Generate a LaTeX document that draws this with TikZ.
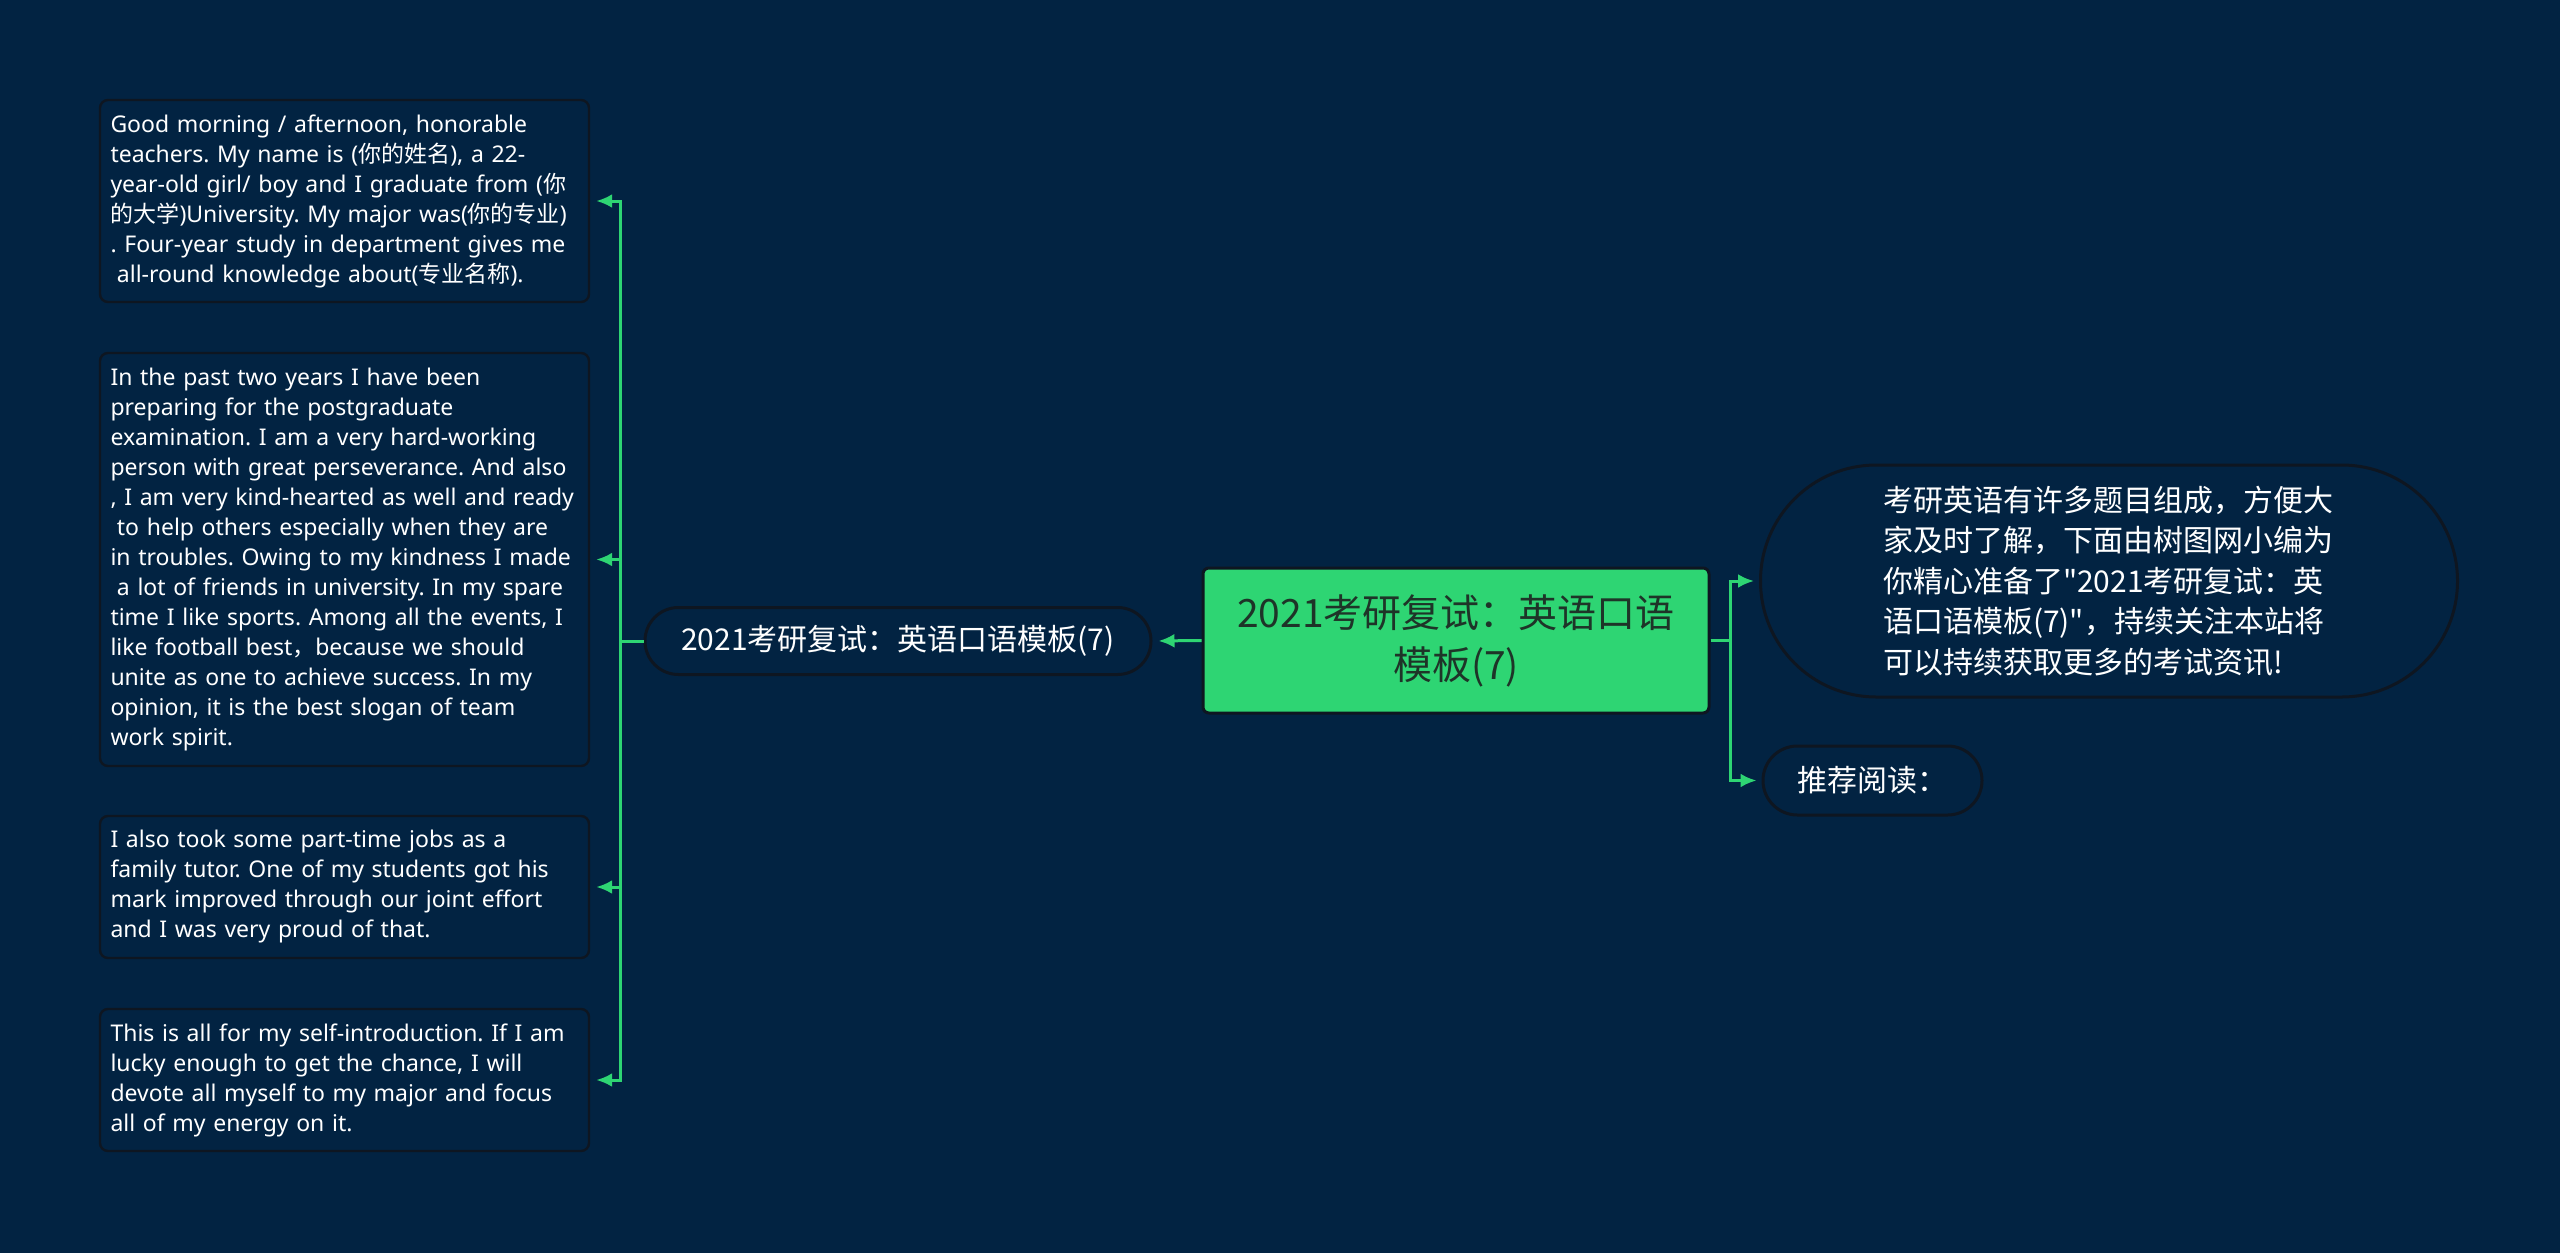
\documentclass[tikz,border=0pt]{standalone}
\usepackage{fontspec}
\setmainfont{Noto Sans}
\newfontfamily\cjk{Noto Sans CJK SC}
\usetikzlibrary{arrows.meta, positioning}
\definecolor{shutubg}{RGB}{2, 35, 66}
\definecolor{shutugreen}{RGB}{46, 213, 115}
\definecolor{shutuedge}{RGB}{14, 22, 33}
\definecolor{shututext}{RGB}{30, 52, 40}
\frenchspacing

\tikzset{
  leafbox/.style={draw=shutuedge, line width=1.2pt, rounded corners=4pt, fill=shutubg,
    text=white, align=left, text width=234pt, inner xsep=5.25pt, inner ysep=0pt,
    font=\fontsize{11.5}{15}\selectfont},
  pillbox/.style={draw=shutuedge, line width=1.5pt, fill=shutubg, text=white, align=center,
    inner sep=0pt, font=\cjk\fontsize{15}{20.2}\selectfont},
  rootbox/.style={draw=shutuedge, line width=1.5pt, rounded corners=3pt, fill=shutugreen,
    text=shututext, align=center, inner sep=0pt, minimum width=253pt, minimum height=72.5pt,
    font=\cjk\fontsize{19.5}{26}\selectfont},
  conn/.style={draw=shutugreen, line width=1.5pt, -{Latex[length=8pt, width=7pt]}, shorten >=3pt}
}

\begin{document}
\begin{tikzpicture}[x=0.5pt, y=-0.5pt]
  \fill[shutubg] (0,0) rectangle (2560,1253);
  \useasboundingbox (0,0) rectangle (2560,1253);

  % root and its two sides
  \node[rootbox] (root) at (1456,640.5) {2021考研复试：英语口语\\模板(7)};
  \node[pillbox, minimum width=253pt, minimum height=33.5pt, rounded corners=16.7pt]
    (mid) at (898,641) {2021考研复试：英语口语模板(7)};
  \node[pillbox, minimum width=348.5pt, minimum height=116pt, rounded corners=57.9pt,
    text width=226pt, align=left] (intro) at (2109,581)
    {考研英语有许多题目组成，方便大\\家及时了解，下面由树图网小编为\\你精心准备了"2021考研复试：英\\语口语模板(7)"，持续关注本站将\\可以持续获取更多的考试资讯!};
  \node[pillbox, minimum width=109.5pt, minimum height=34.5pt, rounded corners=17.2pt]
    (read) at (1872.5,780.5) {推荐阅读：};

  % the four paragraphs
  \node[leafbox, minimum height=101pt] (para1) at (344.5,201)
    {Good morning / afternoon, honorable\\
     teachers. My name is ({\cjk 你的姓名}), a 22-\\
     year-old girl/ boy and I graduate from ({\cjk 你}\\
     {\cjk 的大学})University. My major was({\cjk 你的专业})\\
     . Four-year study in department gives me\\
     \hspace*{0.28em}all-round knowledge about({\cjk 专业名称}).};
  \node[leafbox, minimum height=206.5pt] (para2) at (344.5,559.5)
    {In the past two years I have been\\
     preparing for the postgraduate\\
     examination. I am a very hard-working\\
     person with great perseverance. And also\\
     \mbox{, I am very kind-hearted as well and ready}\\
     \hspace*{0.28em}to help others especially when they are\\
     in troubles. Owing to my kindness I made\\
     \hspace*{0.28em}a lot of friends in university. In my spare\\
     time I like sports. Among all the events, I\\
     like football best{\cjk ，}because we should\\
     unite as one to achieve success. In my\\
     opinion, it is the best slogan of team\\
     work spirit.};
  \node[leafbox, minimum height=71pt] (para3) at (344.5,887)
    {I also took some part-time jobs as a\\
     family tutor. One of my students got his\\
     mark improved through our joint effort\\
     and I was very proud of that.};
  \node[leafbox, minimum height=71pt] (para4) at (344.5,1080)
    {This is all for my self-introduction. If I am\\
     lucky enough to get the chance, I will\\
     devote all myself to my major and focus\\
     all of my energy on it.};

  \draw[conn] (root.west) -- (mid.east);
  \foreach \p in {para1,para2,para3,para4} {
    \draw[conn] (mid.west) -- ++(-23,0) |- (\p.east);
  }
  \draw[conn, shorten >=2.5pt] (root.east) -- ++(20,0) |- (intro.west);
  \draw[conn, shorten >=2.5pt] (root.east) -- ++(20,0) |- (read.west);
\end{tikzpicture}
\end{document}
